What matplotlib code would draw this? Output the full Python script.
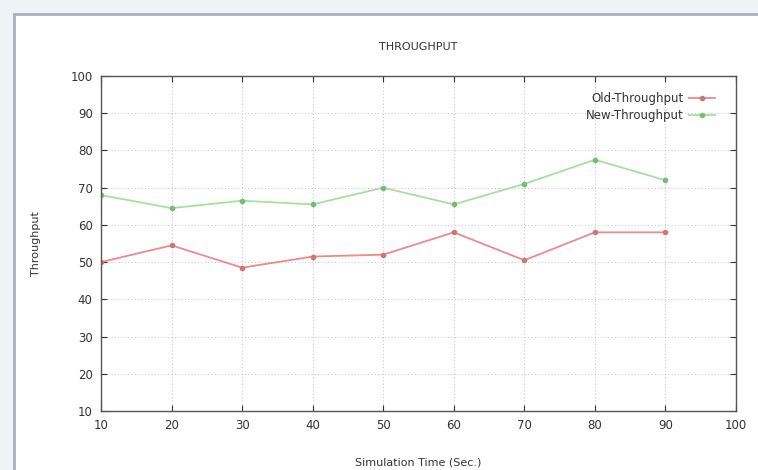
import matplotlib
matplotlib.use("Agg")
import matplotlib.pyplot as plt
from matplotlib.patches import Rectangle

time = [10, 20, 30, 40, 50, 60, 70, 80, 90]
old_throughput = [50, 54.5, 48.5, 51.5, 52, 58, 50.5, 58, 58]
new_throughput = [68, 64.5, 66.5, 65.5, 70, 65.5, 71, 77.5, 72]
x_ticks = [10, 20, 30, 40, 50, 60, 70, 80, 90, 100]
y_ticks = [10, 20, 30, 40, 50, 60, 70, 80, 90, 100]

plt.rcParams['font.family'] = ['DejaVu Sans']
fig = plt.figure(figsize=(7.58, 4.70), dpi=100)
fig.patch.set_facecolor('#eef3f7')
W, H = 758, 470
frame = Rectangle((14 / W, -0.1), 1.2, (1 - 14 / H) + 0.1, transform=fig.transFigure,
                  facecolor='white', edgecolor='#a8b0b8', linewidth=2.0, zorder=-10)
fig.add_artist(frame)

ax = fig.add_axes([101 / W, 1 - 411 / H, (736 - 101) / W, (411 - 76) / H])
ax.set_facecolor('white')
ax.set_zorder(5)

ax.plot(time, old_throughput, color='#ee8a8a', linewidth=1.3, marker='o', markersize=3,
        markerfacecolor='#c77', markeredgecolor='#c77', label='Old-Throughput')
ax.plot(time, new_throughput, color='#a6e0a0', linewidth=1.3, marker='o', markersize=3,
        markerfacecolor='#7b7', markeredgecolor='#7b7', label='New-Throughput')

ax.set_xlim(10, 100)
ax.set_ylim(10, 100)
ax.set_xticks(x_ticks)
ax.set_yticks(y_ticks)
ax.tick_params(direction='in', top=True, right=True, length=4, width=0.8,
               labelsize=8.5, colors='#333333', pad=6)
ax.grid(True, color='#c8c8c8', linestyle=(0, (1, 2)), linewidth=0.8)
for s in ax.spines.values():
    s.set_color('#555555')
    s.set_linewidth(1.0)

ax.set_title('THROUGHPUT', fontsize=8, color='#333333', pad=19)
ax.set_xlabel('Simulation Time (Sec.)', fontsize=8, color='#333333', labelpad=18)
ax.set_ylabel('Throughput', fontsize=8, color='#333333', labelpad=21)

leg = ax.legend(loc='upper right', bbox_to_anchor=(0.975, 0.965), frameon=False,
                markerfirst=False, fontsize=8.5, handlelength=2.2, borderaxespad=0,
                labelspacing=0.3, handletextpad=0.5)
for t in leg.get_texts():
    t.set_color('#333333')

fig.savefig('out.png', dpi=100)
